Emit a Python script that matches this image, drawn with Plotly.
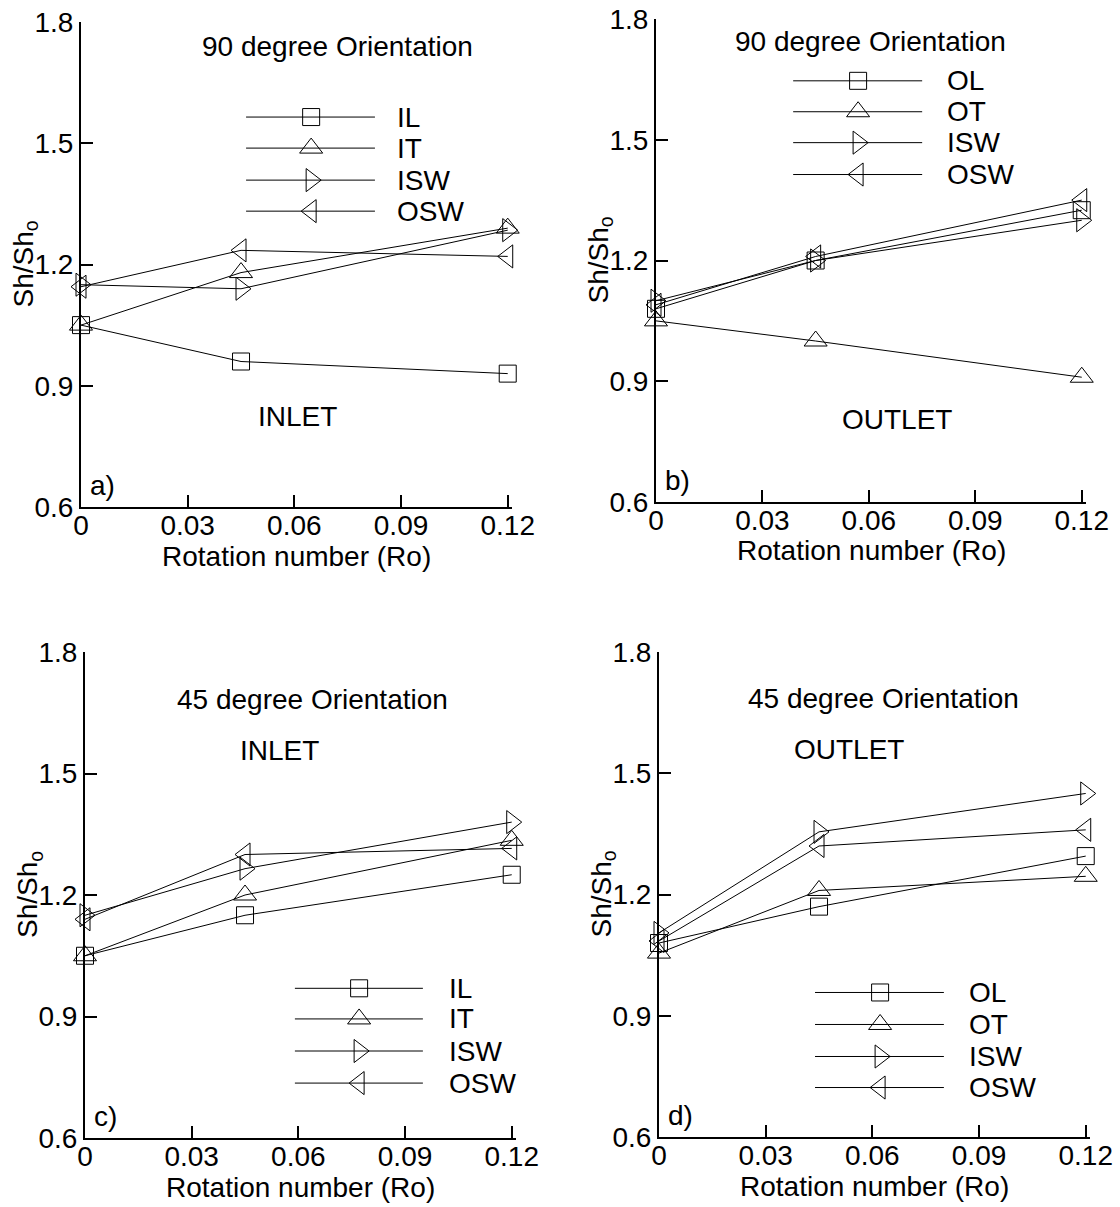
import plotly.graph_objects as go

# Rotation numbers at which the Sherwood ratio was measured
ro = [0.0, 0.045, 0.12]

# (a) 90 degree orientation, inlet
a_IL = [1.05, 0.96, 0.93]
a_IT = [1.05, 1.18, 1.29]
a_ISW = [1.15, 1.14, 1.285]
a_OSW = [1.145, 1.235, 1.22]

# (b) 90 degree orientation, outlet
b_OL = [1.08, 1.20, 1.325]
b_OT = [1.05, 1.00, 0.91]
b_ISW = [1.10, 1.20, 1.30]
b_OSW = [1.09, 1.21, 1.35]

# (c) 45 degree orientation, inlet
c_IL = [1.05, 1.15, 1.25]
c_IT = [1.05, 1.20, 1.335]
c_ISW = [1.15, 1.265, 1.38]
c_OSW = [1.14, 1.30, 1.315]

# (d) 45 degree orientation, outlet
d_OL = [1.08, 1.17, 1.295]
d_OT = [1.055, 1.21, 1.245]
d_ISW = [1.105, 1.355, 1.45]
d_OSW = [1.085, 1.32, 1.36]

x_ticks = [0, 0.03, 0.06, 0.09, 0.12]
x_tick_text = ["0", "0.03", "0.06", "0.09", "0.12"]
y_ticks = [0.6, 0.9, 1.2, 1.5, 1.8]
y_tick_text = ["0.6", "0.9", "1.2", "1.5", "1.8"]

x_title = "Rotation number (Ro)"
y_title = "Sh/Sh<sub>o</sub>"

W, H = 1120, 1207
FONT = "Liberation Sans, Arial, sans-serif"
FS = 28

SYMBOLS = {
    "L": ("square-open", 17),
    "T": ("triangle-up-open", 20),
    "ISW": ("triangle-right-open", 20),
    "OSW": ("triangle-left-open", 20),
}

# panel pixel boxes: left, right, top, bottom
panels = [
    dict(box=(81, 512, 22, 507), tag="a)",
         series=[("IL", a_IL, "L"), ("IT", a_IT, "T"), ("ISW", a_ISW, "ISW"), ("OSW", a_OSW, "OSW")],
         texts=[("90 degree Orientation", 0.594, 0.950), ("INLET", 0.503, 0.187)],
         leg=dict(x0=0.383, x1=0.682, xm=0.534, xt=0.729, rows=[0.804, 0.740, 0.674, 0.610])),
    dict(box=(656, 1086, 19, 502), tag="b)",
         series=[("OL", b_OL, "L"), ("OT", b_OT, "T"), ("ISW", b_ISW, "ISW"), ("OSW", b_OSW, "OSW")],
         texts=[("90 degree Orientation", 0.498, 0.954), ("OUTLET", 0.560, 0.171)],
         leg=dict(x0=0.319, x1=0.619, xm=0.470, xt=0.672, rows=[0.872, 0.808, 0.744, 0.678])),
    dict(box=(85, 516, 652, 1138), tag="c)",
         series=[("IL", c_IL, "L"), ("IT", c_IT, "T"), ("ISW", c_ISW, "ISW"), ("OSW", c_OSW, "OSW")],
         texts=[("45 degree Orientation", 0.527, 0.902), ("INLET", 0.452, 0.798)],
         leg=dict(x0=0.487, x1=0.784, xm=0.636, xt=0.840, rows=[0.308, 0.245, 0.179, 0.113])),
    dict(box=(659, 1090, 652, 1137), tag="d)",
         series=[("OL", d_OL, "L"), ("OT", d_OT, "T"), ("ISW", d_ISW, "ISW"), ("OSW", d_OSW, "OSW")],
         texts=[("45 degree Orientation", 0.520, 0.905), ("OUTLET", 0.441, 0.800)],
         leg=dict(x0=0.362, x1=0.661, xm=0.513, xt=0.715, rows=[0.298, 0.232, 0.166, 0.102])),
]

fig = go.Figure()
layout = dict(
    width=W, height=H,
    margin=dict(l=0, r=0, t=0, b=0, autoexpand=False),
    paper_bgcolor="white", plot_bgcolor="rgba(0,0,0,0)",
    showlegend=False,
    font=dict(family=FONT, size=FS, color="black"),
)
annotations = []

for i, p in enumerate(panels):
    n = i + 1
    k = n + 4  # overlay axes used for the key glyphs
    l, r, t, b = p["box"]
    xdom = [l / W, r / W]
    ydom = [1 - b / H, 1 - t / H]
    xa = "x" if n == 1 else f"x{n}"
    ya = "y" if n == 1 else f"y{n}"
    xname = "xaxis" if n == 1 else f"xaxis{n}"
    yname = "yaxis" if n == 1 else f"yaxis{n}"

    layout[xname] = dict(
        domain=xdom, anchor=ya, range=[0, 0.1212], automargin=False,
        tickvals=x_ticks, ticktext=x_tick_text,
        ticks="inside", ticklen=12, tickwidth=2, tickcolor="black",
        ticklabelstandoff=-8,
        showline=True, linewidth=2, linecolor="black",
        showgrid=False, zeroline=False,
        tickfont=dict(size=FS),
    )
    layout[yname] = dict(
        domain=ydom, anchor=xa, range=[0.6, 1.8], automargin=False,
        tickvals=y_ticks, ticktext=y_tick_text,
        ticks="inside", ticklen=12, tickwidth=2, tickcolor="black",
        showline=True, linewidth=2, linecolor="black",
        showgrid=False, zeroline=False,
        tickfont=dict(size=FS),
    )
    layout[f"xaxis{k}"] = dict(domain=xdom, anchor=f"y{k}", range=[0, 1], visible=False)
    layout[f"yaxis{k}"] = dict(domain=ydom, anchor=f"x{k}", range=[0, 1], visible=False)

    # measured curves
    for name, vals, sym in p["series"]:
        s, sz = SYMBOLS[sym]
        fig.add_trace(go.Scatter(
            x=ro, y=vals, name=name, xaxis=xa, yaxis=ya,
            mode="lines+markers",
            line=dict(color="black", width=1),
            marker=dict(symbol=s, size=sz, color="black", line=dict(width=1)),
            cliponaxis=False,
        ))

    # key: long line with the symbol in its middle, label to the right
    lg = p["leg"]
    for (name, vals, sym), yy in zip(p["series"], lg["rows"]):
        s, sz = SYMBOLS[sym]
        fig.add_trace(go.Scatter(
            x=[lg["x0"], lg["x1"]], y=[yy, yy], xaxis=f"x{k}", yaxis=f"y{k}",
            mode="lines", line=dict(color="black", width=1), hoverinfo="skip",
        ))
        fig.add_trace(go.Scatter(
            x=[lg["xm"]], y=[yy], xaxis=f"x{k}", yaxis=f"y{k}",
            mode="markers", hoverinfo="skip",
            marker=dict(symbol=s, size=sz, color="black", line=dict(width=1)),
        ))
        annotations.append(dict(
            text=name, x=lg["xt"], y=yy, xref=f"x{k}", yref=f"y{k}",
            xanchor="left", yanchor="middle", showarrow=False, font=dict(size=FS),
        ))

    for txt, fx, fy in p["texts"]:
        annotations.append(dict(
            text=txt, x=fx, y=fy, xref=f"{xa} domain", yref=f"{ya} domain",
            xanchor="center", yanchor="middle", showarrow=False, font=dict(size=FS),
        ))
    annotations.append(dict(
        text=p["tag"], x=0.016, y=0.045, xref=f"{xa} domain", yref=f"{ya} domain",
        xanchor="left", yanchor="middle", showarrow=False, font=dict(size=FS),
    ))
    # axis titles
    annotations.append(dict(
        text=x_title, x=0.5, y=0, xref=f"{xa} domain", yref=f"{ya} domain",
        xanchor="center", yanchor="middle", yshift=-49, showarrow=False, font=dict(size=FS),
    ))
    annotations.append(dict(
        text=y_title, x=0, y=0.5, xref=f"{xa} domain", yref=f"{ya} domain",
        xanchor="center", yanchor="middle", xshift=-56, textangle=-90,
        showarrow=False, font=dict(size=FS),
    ))

layout["annotations"] = annotations
fig.update_layout(**layout)
fig.write_html("out.html")
